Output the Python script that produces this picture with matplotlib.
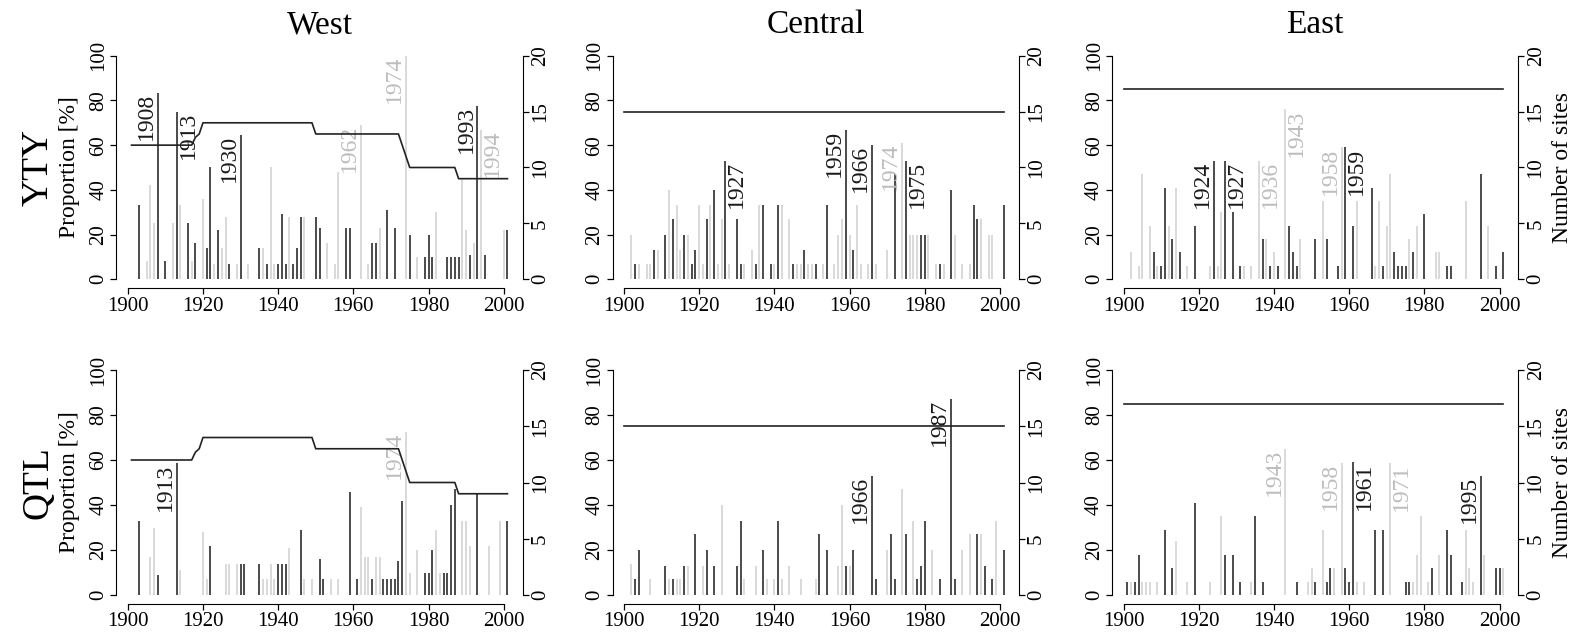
import matplotlib.pyplot as plt

plt.rcParams['font.family'] = 'Liberation Serif'

W, H = 1577, 639
DARK = '#1a1a1a'
LIGHT = '#cfcfcf'
LIGHT_TXT = '#bdbdbd'

# ---- West / YTY
wy_dark_years = [1903, 1908, 1910, 1913, 1916, 1918, 1921, 1922, 1924, 1927, 1930, 1935, 1937, 1940,
                 1941, 1942, 1944, 1945, 1946, 1950, 1951, 1958, 1959, 1965, 1966, 1969, 1971, 1975,
                 1979, 1980, 1981, 1985, 1986, 1987, 1988, 1991, 1993, 1995, 2001]
wy_dark_vals = [33, 83.5, 8, 75, 25, 16, 14, 50, 22, 7, 64.5, 14, 7, 7,
                29, 7, 7, 14, 28, 28, 23, 23, 23, 16, 16, 31, 23, 20,
                10, 20, 10, 10, 10, 10, 10, 11, 77.5, 11, 22]
wy_light_years = [1905, 1906, 1907, 1912, 1914, 1917, 1920, 1923, 1925, 1926, 1929, 1932, 1936, 1938,
                  1939, 1943, 1947, 1953, 1955, 1956, 1962, 1964, 1967, 1974, 1977, 1982, 1989, 1990,
                  1992, 1994, 2000]
wy_light_vals = [8, 42, 25, 25, 33, 8, 36, 7, 14, 28, 7, 7, 14, 50,
                 7, 28, 28, 16, 7, 48, 69, 7, 23, 100, 10, 30, 45, 22,
                 16, 67, 22]
wy_labels = [1908, 1913, 1930, 1962, 1974, 1993, 1994]
wy_label_dark = [True, True, True, False, False, True, False]
wy_label_side = [-1, 1, -1, -1, -1, -1, 1]

# ---- Central / YTY
cy_dark_years = [1903, 1908, 1911, 1913, 1916, 1918, 1919, 1922, 1924, 1927, 1930, 1931, 1935, 1937,
                 1939, 1941, 1945, 1948, 1951, 1954, 1959, 1961, 1966, 1972, 1975, 1979, 1980, 1984,
                 1987, 1993, 1994, 2001]
cy_dark_vals = [7, 13, 20, 27, 20, 7, 13, 27, 40, 53, 27, 7, 7, 33,
                7, 33, 7, 13, 7, 33, 67, 13, 60, 47, 53, 20, 20, 7,
                40, 33, 27, 33]
cy_light_years = [1902, 1904, 1906, 1907, 1909, 1912, 1914, 1915, 1917, 1920, 1921, 1923, 1925, 1926,
                  1928, 1932, 1934, 1936, 1940, 1942, 1944, 1946, 1947, 1949, 1950, 1953, 1956, 1957,
                  1958, 1960, 1962, 1963, 1965, 1967, 1970, 1974, 1976, 1977, 1978, 1981, 1983, 1985,
                  1988, 1990, 1992, 1995, 1997, 1998]
cy_light_vals = [20, 7, 7, 7, 13, 40, 33, 13, 20, 33, 7, 33, 7, 27,
                 7, 7, 13, 33, 7, 33, 27, 7, 7, 7, 7, 7, 7, 20,
                 27, 20, 33, 7, 7, 7, 13, 61, 20, 20, 20, 20, 7, 7,
                 20, 7, 7, 27, 20, 20]
cy_labels = [1927, 1959, 1966, 1974, 1975]
cy_label_dark = [True, True, True, False, True]
cy_label_side = [1, -1, -1, -1, 1]

# ---- East / YTY
ey_dark_years = [1908, 1910, 1911, 1913, 1915, 1919, 1924, 1927, 1929, 1931, 1937, 1939, 1941, 1944,
                 1945, 1946, 1951, 1954, 1957, 1959, 1961, 1966, 1969, 1972, 1973, 1974, 1975, 1977,
                 1980, 1986, 1987, 1995, 1999, 2001]
ey_dark_vals = [12, 6, 41, 18, 12, 24, 53, 53, 30, 6, 18, 6, 6, 24,
                12, 6, 18, 18, 6, 59, 24, 41, 6, 12, 6, 6, 6, 12,
                29, 6, 6, 47, 6, 12]
ey_light_years = [1902, 1904, 1905, 1907, 1909, 1912, 1914, 1917, 1923, 1925, 1926, 1932, 1934, 1936,
                  1938, 1940, 1943, 1947, 1953, 1958, 1962, 1967, 1968, 1970, 1971, 1976, 1978, 1983,
                  1984, 1991, 1997]
ey_light_vals = [12, 6, 47, 24, 6, 24, 41, 6, 6, 6, 30, 6, 6, 53,
                 18, 12, 76, 18, 35, 59, 35, 6, 35, 24, 47, 18, 24, 12,
                 12, 35, 24]
ey_labels = [1924, 1927, 1936, 1943, 1958, 1959]
ey_label_dark = [True, True, False, False, False, True]
ey_label_side = [-1, 1, 1, 1, -1, 1]

# ---- West / QTL
wq_dark_years = [1903, 1908, 1913, 1922, 1930, 1931, 1935, 1940, 1941, 1942, 1946, 1951, 1952, 1959,
                 1961, 1965, 1968, 1969, 1970, 1971, 1972, 1973, 1979, 1980, 1981, 1984, 1985, 1986,
                 1987, 1993, 2001]
wq_dark_vals = [33, 9, 58.5, 22, 14, 14, 14, 14, 14, 14, 29, 16, 7, 46,
                7, 7, 7, 7, 7, 7, 15, 42, 10, 10, 20, 10, 10, 40,
                47, 45, 33]
wq_light_years = [1906, 1907, 1914, 1920, 1921, 1926, 1927, 1929, 1936, 1937, 1938, 1939, 1943, 1947,
                  1949, 1954, 1956, 1962, 1963, 1964, 1966, 1967, 1974, 1975, 1977, 1982, 1983, 1989,
                  1990, 1991, 1996, 1999]
wq_light_vals = [17, 30, 11, 28, 7, 14, 14, 14, 7, 7, 14, 7, 21, 7,
                 7, 7, 7, 39, 17, 17, 17, 17, 72.6, 10, 20, 29, 10, 33,
                 33, 22, 22, 33]
wq_labels = [1913, 1974]
wq_label_dark = [True, False]
wq_label_side = [-1, -1]

# ---- Central / QTL
cq_dark_years = [1903, 1904, 1911, 1913, 1916, 1919, 1922, 1924, 1930, 1931, 1937, 1941, 1952, 1954,
                 1959, 1961, 1966, 1967, 1971, 1972, 1975, 1978, 1979, 1980, 1984, 1987, 1988, 1994,
                 1996, 1998, 2001]
cq_dark_vals = [7, 20, 13, 7, 13, 27, 20, 13, 13, 33, 20, 33, 27, 20,
                13, 20, 53, 7, 27, 7, 27, 7, 13, 33, 7, 87, 7, 27,
                13, 7, 20]
cq_light_years = [1902, 1907, 1912, 1914, 1915, 1917, 1921, 1926, 1932, 1935, 1938, 1940, 1942, 1944,
                  1947, 1951, 1957, 1958, 1960, 1970, 1974, 1977, 1982, 1990, 1992, 1995, 1999]
cq_light_vals = [14, 7, 7, 7, 7, 13, 13, 40, 7, 13, 7, 7, 7, 13,
                 7, 7, 13, 40, 13, 20, 47, 33, 20, 20, 27, 27, 33]
cq_labels = [1966, 1987]
cq_label_dark = [True, True]
cq_label_side = [-1, -1]

# ---- East / QTL
eq_dark_years = [1901, 1903, 1904, 1911, 1913, 1919, 1927, 1929, 1931, 1935, 1937, 1946, 1951, 1954,
                 1955, 1959, 1960, 1961, 1967, 1969, 1975, 1976, 1982, 1986, 1987, 1990, 1995, 1999,
                 2000]
eq_dark_vals = [6, 6, 18, 29, 12, 41, 18, 18, 6, 35, 6, 6, 6, 6,
                12, 12, 6, 59, 29, 29, 6, 6, 12, 29, 18, 6, 53, 12,
                12]
eq_light_years = [1902, 1905, 1906, 1907, 1909, 1914, 1917, 1923, 1926, 1934, 1943, 1949, 1950, 1953,
                  1956, 1958, 1962, 1964, 1971, 1977, 1978, 1979, 1981, 1984, 1991, 1992, 1993, 1996,
                  2001]
eq_light_vals = [6, 6, 6, 6, 6, 24, 6, 6, 35, 6, 65, 6, 12, 29,
                 12, 58.5, 6, 6, 58.5, 6, 18, 35, 6, 18, 29, 12, 6, 18,
                 12]
eq_labels = [1943, 1958, 1961, 1971, 1995]
eq_label_dark = [False, False, True, False, True]
eq_label_side = [-1, -1, 1, 1, -1]

# number of sites (change points)
west_site_years = [1901, 1917, 1918, 1919, 1920, 1949, 1950, 1972, 1973, 1974, 1975, 1987, 1988, 2001]
west_site_n = [12, 12, 12.7, 13, 14, 14, 13, 13, 12, 11, 10, 10, 9, 9]
central_site_years = [1900, 2001]
central_site_n = [15, 15]
east_site_years = [1900, 2001]
east_site_n = [17, 17]

col_titles = ['West', 'Central', 'East']
row_titles = ['YTY', 'QTL']

fig = plt.figure(figsize=(W / 100, H / 100), dpi=100)

col_left = [116.5, 612.7, 1112.3]
col_width = 406
row_top = [46.8, 361]
row_height = [241.4, 243]

panels = [
    [(wy_dark_years, wy_dark_vals, wy_light_years, wy_light_vals, wy_labels, wy_label_dark, wy_label_side,
      west_site_years, west_site_n),
     (cy_dark_years, cy_dark_vals, cy_light_years, cy_light_vals, cy_labels, cy_label_dark, cy_label_side,
      central_site_years, central_site_n),
     (ey_dark_years, ey_dark_vals, ey_light_years, ey_light_vals, ey_labels, ey_label_dark, ey_label_side,
      east_site_years, east_site_n)],
    [(wq_dark_years, wq_dark_vals, wq_light_years, wq_light_vals, wq_labels, wq_label_dark, wq_label_side,
      west_site_years, west_site_n),
     (cq_dark_years, cq_dark_vals, cq_light_years, cq_light_vals, cq_labels, cq_label_dark, cq_label_side,
      central_site_years, central_site_n),
     (eq_dark_years, eq_dark_vals, eq_light_years, eq_light_vals, eq_labels, eq_label_dark, eq_label_side,
      east_site_years, east_site_n)],
]

TICK_FS = 15

for r in range(2):
    for c in range(3):
        dy, dv, ly, lv, labs, lab_dark, lab_side, sy, sn = panels[r][c]
        rect = [col_left[c] / W, 1 - (row_top[r] + row_height[r]) / H, col_width / W, row_height[r] / H]
        ax = fig.add_axes(rect)
        ax.patch.set_alpha(0)
        ax.vlines(ly, 0, lv, color=LIGHT, lw=1.1)
        ax.vlines(dy, 0, dv, color=DARK, lw=1.1)

        # labelled pointer years
        lookup = dict(zip(ly, lv))
        lookup_dark = dict(zip(dy, dv))
        for yr, is_dark, side in zip(labs, lab_dark, lab_side):
            top = lookup_dark[yr] if is_dark else lookup[yr]
            ax.text(yr + side * 3, top, str(yr), rotation=90, ha='center', va='top',
                    fontsize=17, color=DARK if is_dark else LIGHT_TXT)

        ax.set_xlim(1897, 2005)
        ax.set_ylim(-4, 104)
        ax.spines['top'].set_visible(False)
        ax.spines['right'].set_visible(False)
        ax.spines['left'].set_bounds(0, 100)
        ax.spines['bottom'].set_bounds(1900, 2000)
        ax.set_xticks(range(1900, 2001, 20))
        ax.set_yticks(range(0, 101, 20))
        ax.tick_params(length=4, width=0.9, labelsize=TICK_FS, pad=2)
        for lab in ax.get_yticklabels():
            lab.set_rotation(90)
            lab.set_va('center')

        ax2 = ax.twinx()
        ax2.plot(sy, sn, color='#222222', lw=1.2)
        ax2.set_ylim(-0.8, 20.8)
        for s in ['top', 'left', 'bottom']:
            ax2.spines[s].set_visible(False)
        ax2.spines['right'].set_bounds(0, 20)
        ax2.set_yticks(range(0, 21, 5))
        ax2.tick_params(length=4, width=0.9, labelsize=TICK_FS, pad=2)
        for lab in ax2.get_yticklabels():
            lab.set_rotation(90)
            lab.set_va('center')

        if r == 0:
            fig.text((col_left[c] + col_width / 2) / W, 1 - 25 / H, col_titles[c],
                     ha='center', va='center', fontsize=24)
        if c == 0:
            fig.text(70 / W, 1 - (row_top[r] + row_height[r] / 2) / H, 'Proportion [%]',
                     rotation=90, ha='center', va='center', fontsize=17)
            fig.text(38 / W, 1 - (row_top[r] + row_height[r] / 2) / H, row_titles[r],
                     rotation=90, ha='center', va='center', fontsize=27)
        if c == 2:
            fig.text(1563 / W, 1 - (row_top[r] + row_height[r] / 2) / H, 'Number of sites',
                     rotation=90, ha='center', va='center', fontsize=17)

fig.savefig('out.png', dpi=100)
